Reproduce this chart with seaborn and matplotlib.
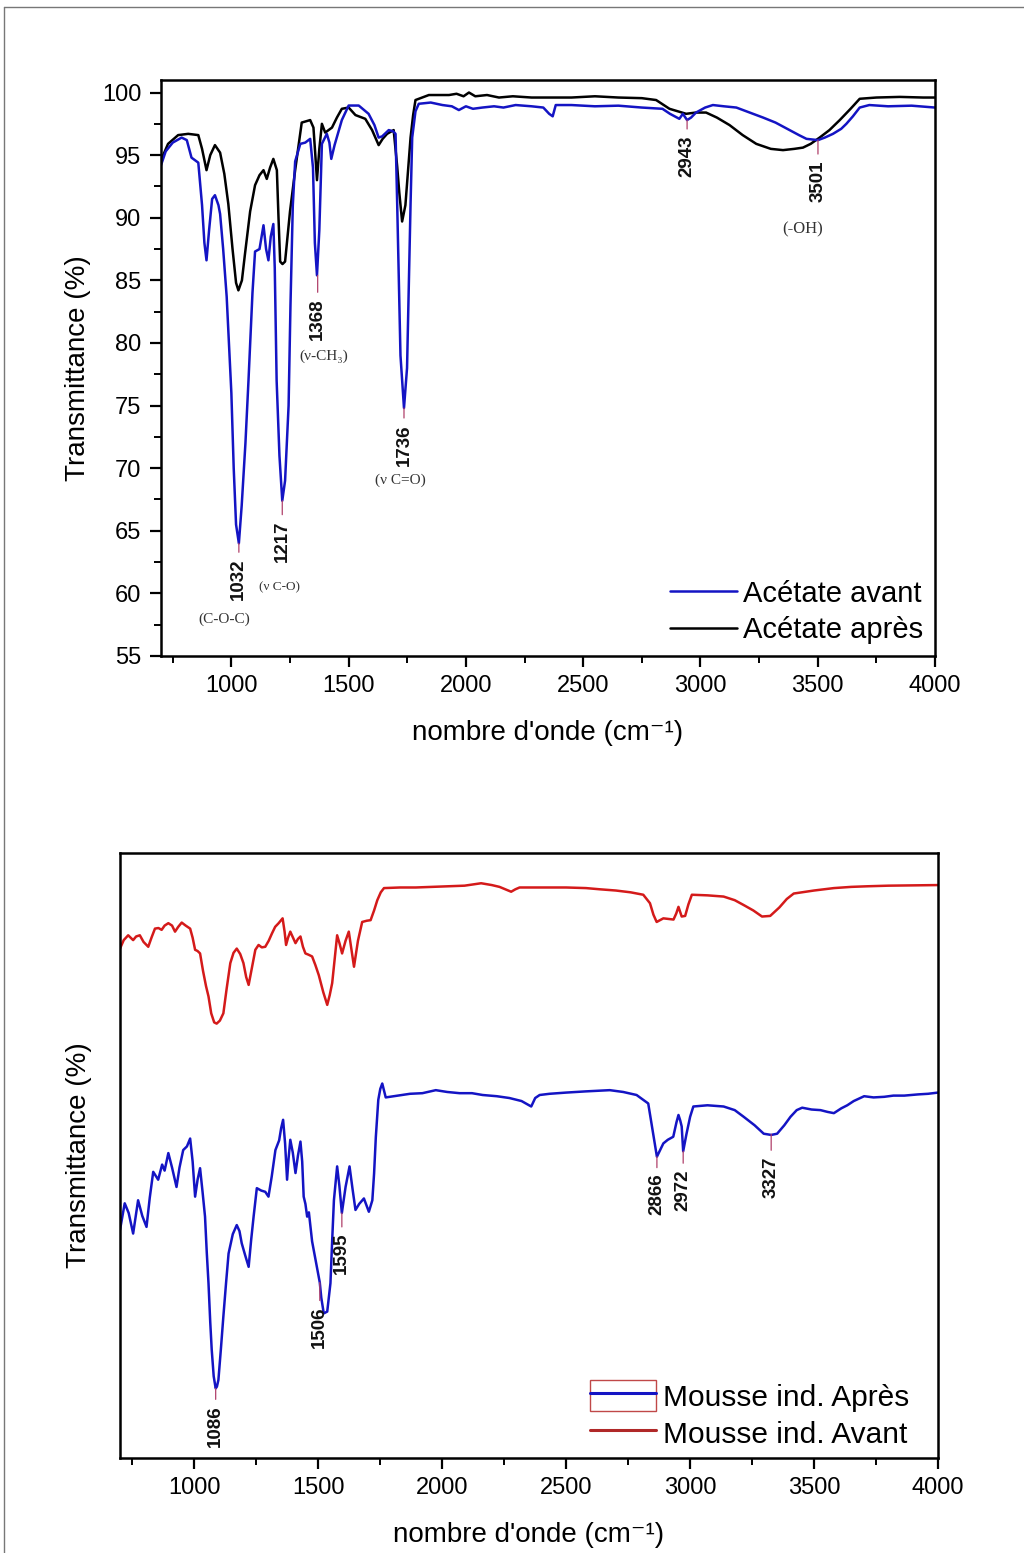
import numpy as np
import pandas as pd
import matplotlib
matplotlib.use("Agg")
import matplotlib.pyplot as plt
import seaborn as sns
from matplotlib.lines import Line2D
from matplotlib.patches import Rectangle
from matplotlib.legend_handler import HandlerTuple
from matplotlib.ticker import MultipleLocator, NullLocator

# ---------------- data ----------------
# Top panel: Acétate avant (blue)
acet_avant_wn = [700, 720, 750, 788, 810, 830, 859, 875, 885, 894, 905, 918, 930, 945, 952, 965, 980, 1000,
                 1010, 1020, 1032, 1044, 1060, 1073, 1090, 1101, 1120, 1137, 1148, 1158, 1168, 1179, 1185, 1193,
                 1205, 1217, 1229, 1244, 1252, 1262, 1272, 1294, 1315, 1336, 1348, 1356, 1365, 1375, 1386, 1407,
                 1418, 1426, 1440, 1471, 1500, 1543, 1585, 1610, 1628, 1643, 1671, 1690, 1700, 1707, 1721, 1736,
                 1749, 1764, 1771, 1785, 1799, 1850, 1900, 1940, 1970, 2000, 2030, 2070, 2120, 2160, 2212, 2280,
                 2330, 2355, 2370, 2383, 2450, 2550, 2650, 2750, 2838, 2870, 2910, 2925, 2943, 2960, 2981, 3020,
                 3053, 3100, 3153, 3210, 3267, 3320, 3380, 3420, 3452, 3501, 3530, 3565, 3600, 3622, 3650, 3679,
                 3720, 3800, 3900, 4000]
acet_avant_T = [94.2, 95.3, 96.0, 96.4, 96.2, 94.8, 94.4, 91.0, 88.0, 86.6, 89.0, 91.5, 91.8, 91.0, 90.3, 87.5, 83.7, 76.0,
                70.0, 65.5, 64.0, 67.0, 72.0, 77.0, 84.0, 87.3, 87.5, 89.4, 87.5, 86.6, 88.5, 89.5, 86.0, 77.0,
                71.0, 67.4, 69.0, 75.0, 83.0, 91.0, 94.5, 95.9, 96.0, 96.3, 94.0, 88.0, 85.4, 89.0, 95.9, 96.7,
                96.0, 94.7, 95.8, 97.8, 98.96, 98.96, 98.3, 97.4, 96.4, 96.5, 97.0, 96.9, 96.7, 91.1, 79.0, 74.8,
                78.0, 91.1, 96.4, 98.5, 99.1, 99.2, 99.0, 98.9, 98.6, 98.9, 98.7, 98.8, 98.9, 98.8, 99.0, 98.9,
                98.8, 98.3, 98.1, 99.0, 99.0, 98.9, 98.95, 98.8, 98.7, 98.3, 97.9, 98.3, 97.8, 98.0, 98.4, 98.8,
                99.0, 98.9, 98.8, 98.4, 98.0, 97.6, 97.0, 96.6, 96.3, 96.2, 96.4, 96.7, 97.1, 97.5, 98.1, 98.8,
                99.0, 98.9, 98.95, 98.8]

# Top panel: Acétate après (black)
acet_apres_wn = [700, 730, 773, 816, 859, 875, 894, 910, 930, 952, 970, 987, 1005, 1020, 1030, 1045, 1058, 1080,
                 1101, 1120, 1137, 1151, 1165, 1179, 1194, 1201, 1208, 1218, 1229, 1250, 1272, 1300, 1336, 1350,
                 1358, 1365, 1375, 1386, 1400, 1429, 1450, 1471, 1500, 1529, 1571, 1600, 1628, 1645, 1664, 1692,
                 1707, 1716, 1728, 1742, 1764, 1775, 1785, 1842, 1928, 1960, 1990, 2013, 2040, 2090, 2141, 2200,
                 2280, 2355, 2450, 2550, 2650, 2750, 2811, 2868, 2939, 2980, 3024, 3070, 3124, 3180, 3238, 3300,
                 3352, 3400, 3437, 3470, 3508, 3550, 3594, 3640, 3679, 3750, 3850, 3950, 4000]
acet_apres_T = [94.6, 95.9, 96.6, 96.7, 96.6, 95.5, 93.8, 95.0, 95.8, 95.2, 93.5, 91.1, 87.5, 84.8, 84.2, 85.0, 87.1, 90.5,
                92.6, 93.4, 93.8, 93.1, 94.0, 94.7, 93.8, 90.0, 86.5, 86.3, 86.5, 90.5, 93.8, 97.6, 97.8, 97.2,
                95.0, 93.0, 95.5, 97.5, 96.8, 97.2, 98.0, 98.7, 98.8, 98.2, 97.9, 97.0, 95.8, 96.3, 96.7, 97.0,
                94.1, 92.0, 89.7, 91.0, 96.4, 98.2, 99.4, 99.8, 99.8, 99.9, 99.7, 100.0, 99.7, 99.8, 99.6, 99.7,
                99.6, 99.6, 99.6, 99.7, 99.6, 99.55, 99.4, 98.7, 98.3, 98.4, 98.4, 98.0, 97.4, 96.6, 95.9, 95.5,
                95.4, 95.5, 95.6, 95.9, 96.4, 97.0, 97.8, 98.7, 99.5, 99.6, 99.65, 99.6, 99.6]

acet_peaks = [1032, 1217, 1368, 1736, 2943, 3501]
acet_peak_T = [64.0, 67.4, 85.4, 74.8, 97.8, 96.2]
acet_groups = ["(C-O-C)", "(ν C-O)", "(ν-CH₃)", "(ν C=O)", "(-OH)"]

# Bottom panel (arbitrary transmittance scale): Mousse ind. Après (blue)
mousse_apres_wn = [700, 719, 735, 753, 773, 790, 807, 820, 834, 854, 870, 880, 895, 910, 928, 940, 955, 970, 983,
                   993, 1003, 1013, 1023, 1033, 1043, 1050, 1057, 1064, 1070, 1078, 1086, 1091, 1097, 1107, 1117,
                   1128, 1138, 1155, 1171, 1182, 1191, 1205, 1219, 1229, 1239, 1252, 1270, 1286, 1299, 1312, 1327,
                   1342, 1350, 1358, 1366, 1374, 1380, 1387, 1397, 1408, 1418, 1428, 1435, 1441, 1448, 1455, 1462,
                   1475, 1490, 1506, 1512, 1522, 1536, 1549, 1556, 1563, 1576, 1585, 1595, 1610, 1626, 1638, 1650,
                   1665, 1684, 1704, 1718, 1725, 1732, 1742, 1750, 1758, 1772, 1820, 1870, 1920, 1974, 2020, 2070,
                   2120, 2163, 2220, 2271, 2320, 2359, 2375, 2393, 2433, 2500, 2580, 2676, 2730, 2784, 2831, 2851,
                   2866, 2880, 2892, 2910, 2932, 2945, 2953, 2960, 2966, 2972, 2985, 3000, 3013, 3070, 3135, 3180,
                   3216, 3260, 3297, 3327, 3351, 3380, 3405, 3430, 3452, 3490, 3526, 3555, 3580, 3610, 3634, 3660,
                   3702, 3740, 3783, 3820, 3864, 3920, 3960, 4000]
mousse_apres_T = [37.7, 42.1, 40.5, 37.1, 42.6, 40.0, 38.2, 43.0, 47.3, 46.0, 48.5, 47.5, 50.4, 48.0, 44.8, 48.0, 50.9, 51.5, 52.8,
                  49.0, 43.2, 46.0, 47.9, 44.0, 39.9, 34.0, 28.9, 22.5, 17.9, 13.5, 11.5, 11.8, 12.9, 18.0, 23.4,
                  29.0, 33.8, 37.0, 38.5, 37.5, 35.5, 33.5, 31.6, 36.0, 39.9, 44.6, 44.2, 44.0, 43.2, 46.5, 50.9,
                  52.5, 54.5, 55.9, 52.0, 46.0, 49.5, 52.6, 50.5, 47.1, 50.0, 52.3, 49.0, 43.2, 42.0, 39.9, 40.6,
                  35.8, 32.5, 29.0, 26.5, 23.9, 24.2, 28.9, 36.0, 42.6, 48.2, 45.0, 40.5, 44.8, 48.2, 44.5, 41.0,
                  42.0, 42.9, 40.7, 42.6, 47.0, 53.0, 59.2, 61.0, 61.9, 59.6, 59.9, 60.2, 60.3, 60.8, 60.5, 60.3,
                  60.3, 60.0, 59.8, 59.5, 59.0, 58.1, 59.5, 60.0, 60.2, 60.4, 60.6, 60.8, 60.5, 60.0, 58.6, 53.6,
                  49.8, 51.0, 52.0, 52.6, 53.1, 55.5, 56.7, 55.8, 54.8, 50.7, 53.5, 56.4, 58.1, 58.3, 58.1, 57.5,
                  56.4, 55.0, 53.6, 53.4, 53.6, 55.0, 56.4, 57.5, 57.9, 57.6, 57.5, 57.2, 57.0, 57.8, 58.3, 59.0,
                  59.8, 59.6, 59.7, 59.9, 59.9, 60.1, 60.2, 60.4]

# Bottom panel: Mousse ind. Avant (red)
mousse_avant_wn = [700, 715, 733, 753, 765, 780, 795, 814, 827, 841, 855, 868, 880, 895, 910, 922, 935, 949, 965,
                   983, 993, 1003, 1013, 1023, 1035, 1047, 1057, 1068, 1080, 1090, 1103, 1117, 1130, 1145, 1158,
                   1171, 1185, 1198, 1209, 1219, 1232, 1246, 1259, 1272, 1286, 1300, 1313, 1326, 1340, 1356, 1364,
                   1370, 1378, 1387, 1398, 1408, 1418, 1428, 1438, 1448, 1460, 1475, 1488, 1502, 1520, 1536, 1546,
                   1556, 1566, 1576, 1586, 1596, 1610, 1623, 1634, 1644, 1660, 1677, 1695, 1711, 1725, 1738, 1752,
                   1765, 1830, 1893, 1960, 2028, 2090, 2157, 2200, 2231, 2255, 2278, 2295, 2312, 2400, 2500, 2580,
                   2636, 2700, 2760, 2811, 2838, 2852, 2865, 2892, 2933, 2944, 2953, 2966, 2980, 2993, 3007, 3070,
                   3135, 3180, 3216, 3255, 3290, 3323, 3360, 3390, 3418, 3500, 3580, 3650, 3715, 3800, 3900, 4000]
mousse_avant_T = [84.2, 85.6, 86.4, 85.6, 86.2, 86.4, 85.3, 84.5, 86.0, 87.5, 87.6, 87.3, 88.0, 88.4, 88.0, 87.0, 87.8, 88.5, 88.0,
                  87.5, 86.0, 84.0, 83.8, 83.4, 80.5, 78.0, 76.3, 73.5, 72.0, 71.8, 72.3, 73.5, 77.5, 81.8, 83.5,
                  84.2, 83.3, 81.8, 79.5, 78.2, 81.0, 84.0, 84.8, 84.4, 84.5, 85.5, 86.7, 87.8, 88.4, 89.2, 87.0,
                  84.8, 86.0, 87.0, 86.0, 85.1, 85.8, 86.2, 84.5, 83.4, 83.2, 82.9, 81.5, 79.8, 77.0, 74.9, 76.5,
                  78.5, 82.5, 86.4, 85.0, 83.4, 85.5, 87.0, 84.0, 81.2, 85.5, 88.6, 88.8, 88.9, 90.5, 92.2, 93.5,
                  94.2, 94.3, 94.3, 94.4, 94.5, 94.6, 95.0, 94.7, 94.4, 94.0, 93.6, 94.0, 94.3, 94.3, 94.3, 94.2,
                  94.0, 93.8, 93.5, 93.1, 91.7, 89.8, 88.6, 89.2, 89.0, 90.0, 91.1, 89.5, 89.6, 91.5, 93.1, 93.0,
                  92.8, 92.2, 91.4, 90.5, 89.5, 89.6, 91.0, 92.4, 93.3, 93.8, 94.2, 94.4, 94.5, 94.6, 94.65, 94.7]

mousse_peaks = [1086, 1506, 1595, 2866, 2972, 3327]
mousse_peak_T = [11.5, 29.0, 40.5, 49.8, 50.7, 53.5]

# ---------------- style ----------------
sns.set_theme(style="ticks")
plt.rcParams['font.family'] = ['Liberation Sans', 'DejaVu Sans']
plt.rcParams['text.color'] = 'black'
plt.rcParams['axes.labelcolor'] = 'black'
plt.rcParams['axes.linewidth'] = 1.8
plt.rcParams['xtick.major.width'] = 1.6
plt.rcParams['ytick.major.width'] = 1.6
plt.rcParams['xtick.minor.width'] = 1.4
plt.rcParams['ytick.minor.width'] = 1.4

BLUE = "#1414c4"
BLACK = "#000000"
RED = "#d41a1a"
TICKRED = "#b0406a"

fig = plt.figure(figsize=(10.24, 15.53), dpi=100)
fig.patch.set_facecolor("white")

# figure border (top + left)
fig.add_artist(Line2D([4/1024, 1.0], [1 - 6.5/1553, 1 - 6.5/1553], transform=fig.transFigure, color="#777777", lw=1.0))
fig.add_artist(Line2D([4/1024, 4/1024], [0.0, 1 - 6.5/1553], transform=fig.transFigure, color="#777777", lw=1.0))

ax1 = fig.add_axes([161/1024, 1 - 656/1553, (935-161)/1024, (656-80)/1553])
ax2 = fig.add_axes([120/1024, 1 - 1458/1553, (938-120)/1024, (1458-853)/1553])

XLABEL = "nombre d'onde (cm⁻¹)"

def style_axes(ax):
    for s in ax.spines.values():
        s.set_visible(True)
        s.set_color("black")
        s.set_linewidth(1.8)
    ax.set_facecolor("white")
    ax.set_xlim(700, 4000)
    ax.xaxis.set_major_locator(MultipleLocator(500))
    ax.xaxis.set_minor_locator(MultipleLocator(250))
    ax.tick_params(axis='both', which='major', direction='out', length=8, labelsize=17,
                   colors='black', labelcolor='black', pad=6)
    ax.tick_params(axis='both', which='minor', direction='out', length=5, colors='black')
    ax.tick_params(top=False, right=False)

# ---------------- top panel ----------------
df_a = pd.DataFrame({"wn": acet_avant_wn, "T": acet_avant_T})
df_b = pd.DataFrame({"wn": acet_apres_wn, "T": acet_apres_T})
sns.lineplot(data=df_b, x="wn", y="T", ax=ax1, color=BLACK, lw=1.8, sort=False, estimator=None)
sns.lineplot(data=df_a, x="wn", y="T", ax=ax1, color=BLUE, lw=1.8, sort=False, estimator=None)
style_axes(ax1)
ax1.set_ylim(55, 101)
ax1.yaxis.set_major_locator(MultipleLocator(5))
ax1.yaxis.set_minor_locator(MultipleLocator(2.5))
ax1.set_xlabel(XLABEL, fontsize=20, labelpad=16)
ax1.set_ylabel("Transmittance (%)", fontsize=20, labelpad=8)

gaps_top = [15, 20, 23, 16, 15, 20]
for wn, T, g in zip(acet_peaks, acet_peak_T, gaps_top):
    ax1.annotate(str(wn), xy=(wn, T), xytext=(0, -g), textcoords='offset pixels',
                 rotation=90, ha='center', va='top', fontsize=13.5, fontweight='bold', color='#111111',
                 arrowprops=dict(arrowstyle='-', color=TICKRED, lw=0.9, shrinkA=2, shrinkB=0))

group_pos = [(970, 57.9), (1205, 60.5), (1393, 78.9), (1722, 69.0), (3436, 89.1)]
group_size = [11, 9.5, 11, 11, 12]
for txt, (x, y), fs in zip(acet_groups, group_pos, group_size):
    ax1.text(x, y, txt, ha='center', va='center', fontsize=fs, color='#333333',
             family=['Liberation Serif', 'DejaVu Serif'])

h_top = [Line2D([], [], color=BLUE, lw=1.8), Line2D([], [], color=BLACK, lw=1.8)]
leg1 = ax1.legend(h_top, ["Acétate avant", "Acétate après"], loc='lower right', frameon=False,
                  fontsize=21, handlelength=2.3, handletextpad=0.2, labelspacing=0.3,
                  borderaxespad=0.0, bbox_to_anchor=(1.0, 0.0))
for t in leg1.get_texts():
    t.set_color('black')

# ---------------- bottom panel ----------------
df_c = pd.DataFrame({"wn": mousse_avant_wn, "T": mousse_avant_T})
df_d = pd.DataFrame({"wn": mousse_apres_wn, "T": mousse_apres_T})
sns.lineplot(data=df_c, x="wn", y="T", ax=ax2, color=RED, lw=1.8, sort=False, estimator=None)
sns.lineplot(data=df_d, x="wn", y="T", ax=ax2, color=BLUE, lw=1.8, sort=False, estimator=None)
style_axes(ax2)
ax2.set_ylim(0, 100)
ax2.yaxis.set_major_locator(NullLocator())
ax2.yaxis.set_minor_locator(NullLocator())
ax2.set_xlabel(XLABEL, fontsize=20, labelpad=16)
ax2.set_ylabel("Transmittance (%)", fontsize=20, labelpad=20)

gaps_bot = [17, 24, 20, 17, 18, 22]
for wn, T, g in zip(mousse_peaks, mousse_peak_T, gaps_bot):
    ax2.annotate(str(wn), xy=(wn, T), xytext=(0, -g), textcoords='offset pixels',
                 rotation=90, ha='center', va='top', fontsize=13.5, fontweight='bold', color='#111111',
                 arrowprops=dict(arrowstyle='-', color=TICKRED, lw=0.9, shrinkA=2, shrinkB=0))

h_bot = [(Rectangle((0, 0), 1, 1, facecolor='none', edgecolor='#c04848', lw=1.0),
          Line2D([], [], color=BLUE, lw=2.2)),
         Line2D([], [], color='#b02828', lw=2.2)]
leg2 = ax2.legend(h_bot, ["Mousse ind. Après", "Mousse ind. Avant"], loc='lower right', frameon=False,
                  fontsize=21.5, handlelength=2.2, handleheight=1.2, handletextpad=0.25, labelspacing=0.2,
                  borderaxespad=0.0, bbox_to_anchor=(0.98, -0.005),
                  handler_map={tuple: HandlerTuple(ndivide=1)})
for t in leg2.get_texts():
    t.set_color('black')

fig.savefig("out.png", dpi=100, facecolor="white")
